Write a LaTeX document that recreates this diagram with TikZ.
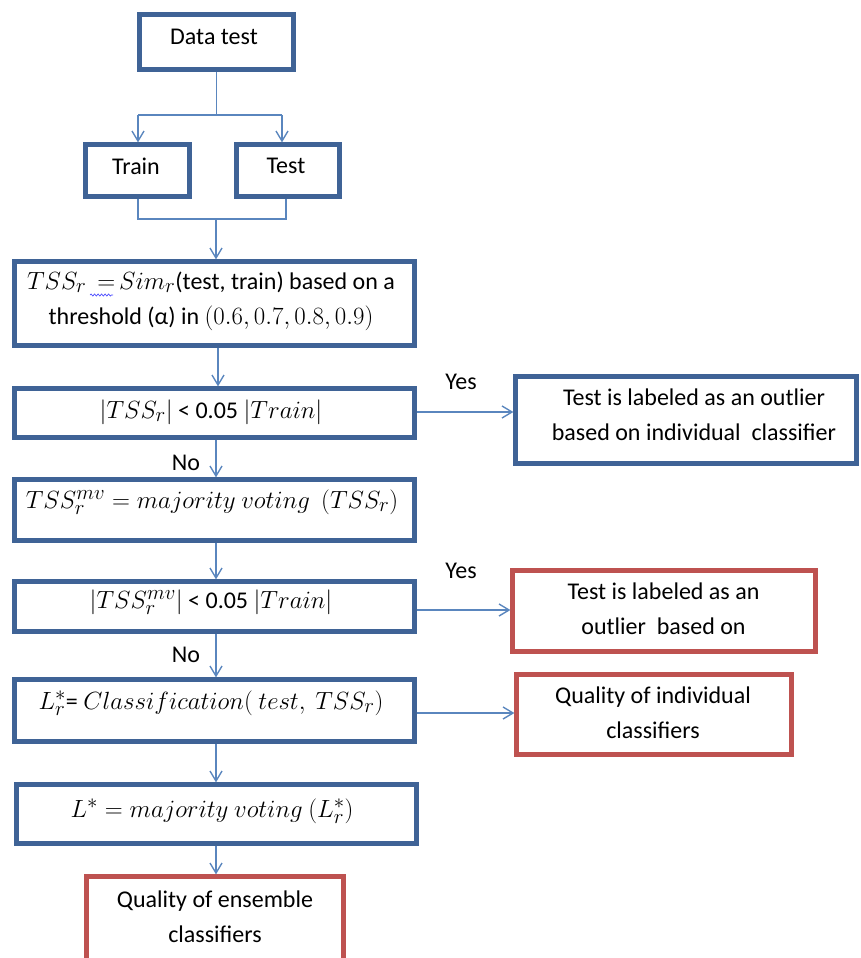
\documentclass[tikz,border=0pt]{standalone}
\usepackage{fontspec}
\setmainfont{Carlito}
\usetikzlibrary{arrows.meta,decorations.pathmorphing}
\definecolor{boxblue}{HTML}{3F6396}
\definecolor{boxred}{HTML}{BE5250}
\definecolor{arrblue}{HTML}{5A86BE}
\newcommand\mth[1]{{\fontsize{24.88}{30}\selectfont$#1$}}
\begin{document}
\begin{tikzpicture}[x=1pt,y=-1pt,
  bbox/.style={draw=boxblue,line width=4.2pt,fill=white,inner sep=0pt},
  rbox/.style={draw=boxred,line width=4.2pt,fill=white,inner sep=0pt},
  txt/.style={align=center,inner sep=0pt,font=\fontsize{24}{35}\selectfont},
  conn/.style={draw=arrblue,line width=1.4pt},
  arr/.style={conn,-{Straight Barb[length=10pt,width=12pt,line width=1.4pt]}},
  lab/.style={font=\fontsize{24}{30}\selectfont,inner sep=0pt}]
\useasboundingbox (0,0) rectangle (861,958);
\fill[white] (0,0) rectangle (861,958);
% boxes
\node[bbox,minimum width=154pt,minimum height=55pt] (data) at (216.5,42) {};
\node[bbox,minimum width=104pt,minimum height=52pt] (train) at (137.5,170.5) {};
\node[bbox,minimum width=103pt,minimum height=52pt] (testb) at (288,170.5) {};
\node[bbox,minimum width=400pt,minimum height=84pt] (tss) at (214.5,303.5) {};
\node[bbox,minimum width=400pt,minimum height=49pt] (c1) at (214.5,413) {};
\node[bbox,minimum width=400pt,minimum height=61pt] (mv) at (214.5,510) {};
\node[bbox,minimum width=400pt,minimum height=50pt] (c2) at (214.5,606.5) {};
\node[bbox,minimum width=400pt,minimum height=62pt] (cls) at (214.5,710.5) {};
\node[bbox,minimum width=400pt,minimum height=59pt] (lstar) at (216.5,814) {};
\node[rbox,minimum width=257pt,minimum height=100pt] (qens) at (215,926.5) {};
\node[bbox,minimum width=341pt,minimum height=87pt] (r1) at (686,420) {};
\node[rbox,minimum width=303pt,minimum height=81pt] (r2) at (664,611) {};
\node[rbox,minimum width=275pt,minimum height=80pt] (r3) at (654,714.5) {};
% texts
\node[txt] (data-t) at (214,37) {Data test};
\node[txt] (train-t) at (136,166) {Train};
\node[txt] (testb-t) at (286,166) {Test};
\node[txt] (tss-t) at (211,301)
  {\mth{TSS_r}\ \ \mth{=}\,\mth{Sim_r}(test, train) based on a\\threshold (α) in\ \mth{(0.6,0.7,0.8,0.9)}};
\node[txt] (c1-t) at (211,412) {\mth{|TSS_r|} < 0.05 \mth{|Train|}};
\node[txt] (mv-t) at (212,502) {\mth{TSS_r^{mv} = majority\ voting\ \ (TSS_r)}};
\node[txt] (c2-t) at (211,602) {\mth{|TSS_r^{mv}|} < 0.05 \mth{|Train|}};
\node[txt] (cls-t) at (211,703) {\mth{L_r^*}= \mth{Classification(\ test,\ TSS_r)}};
\node[txt] (lstar-t) at (212,811) {\mth{L^* = majority\ voting\ (L_r^*)}};
\node[txt] (qens-t) at (215,917) {Quality of ensemble\\classifiers};
\node[txt] (r1-t) at (694,415) {Test is labeled as an outlier\\based on individual\ \ classifier};
\node[txt] (r2-t) at (663.5,609) {Test is labeled as an\\outlier\ \ based on};
\node[txt] (r3-t) at (653,713) {Quality of individual\\classifiers};
% spell-check squiggle
\draw[blue!70,line width=0.7pt,decorate,decoration={snake,amplitude=1pt,segment length=3.5pt}] (90,295) -- (113,295);
% connectors top
\coordinate (s1) at (216.5,115);
\coordinate (sl) at (138,115);
\coordinate (sr) at (282,115);
\draw[conn] (data.south) -- (s1);
\draw[conn] (sl) -- (sr);
\draw[arr] (sl) -- (sl |- train.north);
\draw[arr] (sr) -- (sr |- testb.north);
\coordinate (ml) at (138,219);
\coordinate (mr) at (286,219);
\coordinate (mc) at (216,219);
\draw[conn] (ml |- train.south) -- (ml) -- (mr) -- (mr |- testb.south);
\draw[arr] (mc) -- (mc |- tss.north);
% main column
\coordinate (a1) at (218,0);
\coordinate (a2) at (216,0);
\draw[arr] (a1 |- tss.south) -- (a1 |- c1.north);
\draw[arr] (a2 |- c1.south) -- (a2 |- mv.north);
\draw[arr] (a2 |- mv.south) -- (a2 |- c2.north);
\draw[arr] (a2 |- c2.south) -- (a2 |- cls.north);
\draw[arr] (a2 |- cls.south) -- (a2 |- lstar.north);
\draw[arr] (a2 |- lstar.south) -- (a2 |- qens.north);
% side arrows
\draw[arr] (c1.east |- 0,412) -- (r1.west |- 0,412);
\draw[arr] (c2.east |- 0,610) -- (r2.west |- 0,610);
\draw[arr] (cls.east |- 0,713) -- (r3.west |- 0,713);
% labels
\node[lab] (yes1) at (461,382) {Yes};
\node[lab] (yes2) at (461,571) {Yes};
\node[lab] (no1) at (186,463) {No};
\node[lab] (no2) at (186,655) {No};
\end{tikzpicture}
\end{document}
